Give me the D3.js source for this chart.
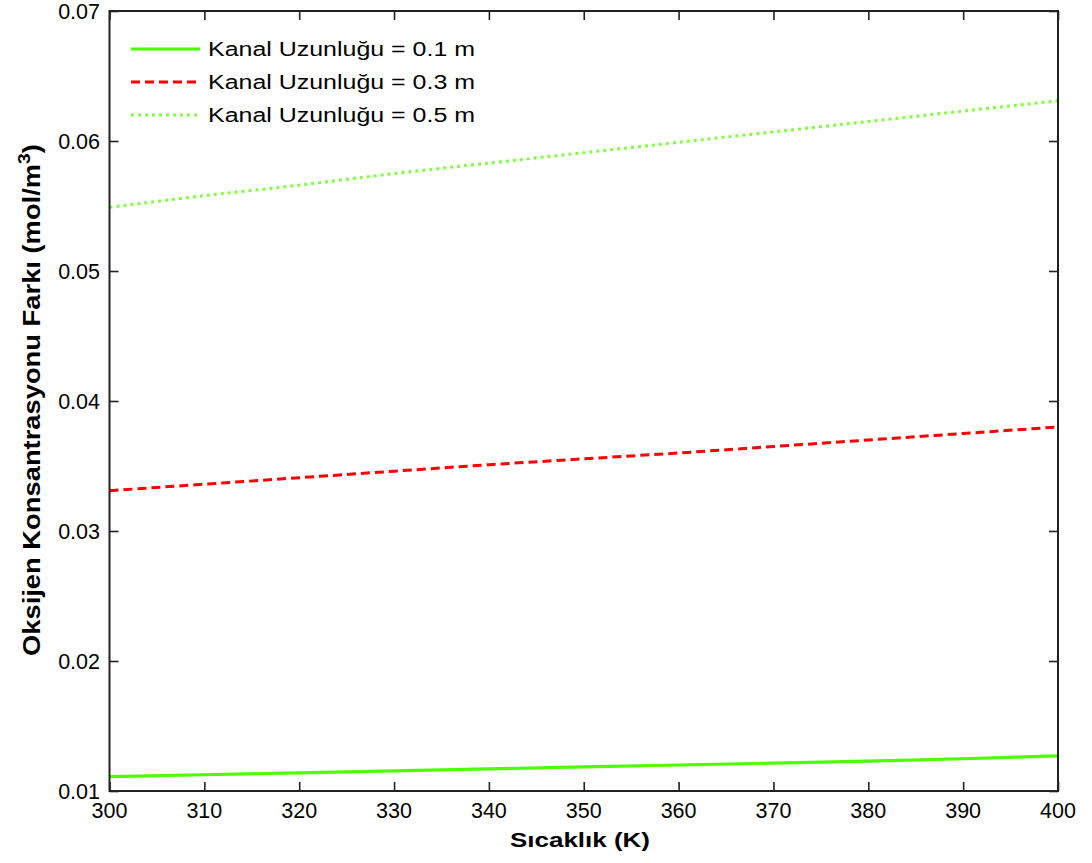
<!DOCTYPE html>
<html>
<head>
<meta charset="utf-8">
<script src="https://cdn.jsdelivr.net/npm/d3@7"></script>
<style>
  html, body { margin: 0; padding: 0; background: #fff; }
  svg { display: block; font-family: Arial, "Liberation Sans", sans-serif; }
</style>
</head>
<body>
<svg id="chart" width="1092" height="863"></svg>
<script>
// Temperature (K)
const temperature = [300, 310, 320, 330, 340, 350, 360, 370, 380, 390, 400];
// Oxygen concentration difference (mol/m^3) per channel length
const len01 = [0.0111, 0.01125, 0.0114, 0.01155, 0.0117, 0.01185, 0.0120, 0.01215, 0.0123, 0.01248, 0.0127];
const len03 = [0.0331, 0.0336, 0.0341, 0.0346, 0.0351, 0.03555, 0.0360, 0.0365, 0.0370, 0.0375, 0.0380];
const len05 = [0.0549, 0.0558, 0.0566, 0.0575, 0.0583, 0.0591, 0.0599, 0.0607, 0.0615, 0.0623, 0.0631];
const seriesNames = ["Kanal Uzunluğu = 0.1 m", "Kanal Uzunluğu = 0.3 m", "Kanal Uzunluğu = 0.5 m"];
const xTicks = [300, 310, 320, 330, 340, 350, 360, 370, 380, 390, 400];
const yTicks = [0.01, 0.02, 0.03, 0.04, 0.05, 0.06, 0.07];

const svg = d3.select("#chart");
const m = { left: 109.5, top: 11, right: 1058, bottom: 791 };

const x = d3.scaleLinear().domain([300, 400]).range([m.left, m.right]);
const y = d3.scaleLinear().domain([0.01, 0.07]).range([m.bottom, m.top]);

const series = [
  { name: seriesNames[0], values: len01, color: "#4dff00", dash: null, width: 3.2 },
  { name: seriesNames[1], values: len03, color: "#ff0000", dash: "9,5", width: 3 },
  { name: seriesNames[2], values: len05, color: "#80ff40", dash: "3,4", width: 3 }
];

// Stretch a text element horizontally so it spans the given width,
// keeping its anchor point fixed.
function fitWidth(textSel, width, ax, ay, rotate) {
  const node = textSel.node();
  const w = node.getComputedTextLength();
  const k = width / w;
  textSel.attr("transform",
    `translate(${ax},${ay})` + (rotate ? ` rotate(${rotate})` : "") + ` scale(${k},1)`);
}

const tickLen = 9;

// Inward ticks on all four sides
const axes = [
  svg.append("g").attr("transform", `translate(0,${m.bottom})`)
    .call(d3.axisBottom(x).tickValues(xTicks).tickSizeInner(-tickLen).tickSizeOuter(0).tickFormat("")),
  svg.append("g").attr("transform", `translate(0,${m.top})`)
    .call(d3.axisTop(x).tickValues(xTicks).tickSizeInner(-tickLen).tickSizeOuter(0).tickFormat("")),
  svg.append("g").attr("transform", `translate(${m.left},0)`)
    .call(d3.axisLeft(y).tickValues(yTicks).tickSizeInner(-tickLen).tickSizeOuter(0).tickFormat("")),
  svg.append("g").attr("transform", `translate(${m.right},0)`)
    .call(d3.axisRight(y).tickValues(yTicks).tickSizeInner(-tickLen).tickSizeOuter(0).tickFormat(""))
];
axes.forEach(g => {
  g.select(".domain").remove();
  g.selectAll(".tick line").attr("stroke", "#222").attr("stroke-width", 1.6);
});

// Tick labels
svg.append("g").selectAll("text").data(xTicks).join("text")
  .attr("x", d => x(d)).attr("y", 818)
  .attr("text-anchor", "middle")
  .attr("font-size", 21.5).attr("fill", "#000")
  .text(d3.format("d"));

svg.append("g").selectAll("text").data(yTicks).join("text")
  .attr("x", 100).attr("y", d => y(d))
  .attr("dy", "0.36em")
  .attr("text-anchor", "end")
  .attr("font-size", 21.5).attr("fill", "#000")
  .text(d3.format(".2f"));

// Data lines
const line = d3.line()
  .x((d, i) => x(temperature[i]))
  .y(d => y(d));

series.forEach(s => {
  svg.append("path")
    .datum(s.values)
    .attr("fill", "none")
    .attr("stroke", s.color)
    .attr("stroke-width", s.width)
    .attr("stroke-dasharray", s.dash)
    .attr("d", line);
});

// Plot frame
svg.append("rect")
  .attr("x", m.left).attr("y", m.top)
  .attr("width", m.right - m.left).attr("height", m.bottom - m.top)
  .attr("fill", "none").attr("stroke", "#222").attr("stroke-width", 2);

// Legend
const legend = svg.append("g");
series.forEach((s, i) => {
  const ly = 49 + i * 33;
  legend.append("line")
    .attr("x1", 131).attr("x2", 200).attr("y1", ly).attr("y2", ly)
    .attr("stroke", s.color).attr("stroke-width", s.width)
    .attr("stroke-dasharray", s.dash);
  const t = legend.append("text")
    .attr("font-size", 20)
    .attr("fill", "#000")
    .text(s.name);
  fitWidth(t, 267, 208, ly + 7);
});

// Axis titles
const xt = svg.append("text")
  .attr("text-anchor", "middle")
  .attr("font-size", 21).attr("font-weight", "bold")
  .text("Sıcaklık (K)");
fitWidth(xt, 140, 580, 847);

const yt = svg.append("text")
  .attr("text-anchor", "middle")
  .attr("font-size", 24).attr("font-weight", "bold");
yt.append("tspan").text("Oksijen Konsantrasyonu Farkı (mol/m");
yt.append("tspan").attr("dy", -10).attr("font-size", 17).text("3");
yt.append("tspan").attr("dy", 10).text(")");
fitWidth(yt, 512, 40, 400, -90);
</script>
</body>
</html>
